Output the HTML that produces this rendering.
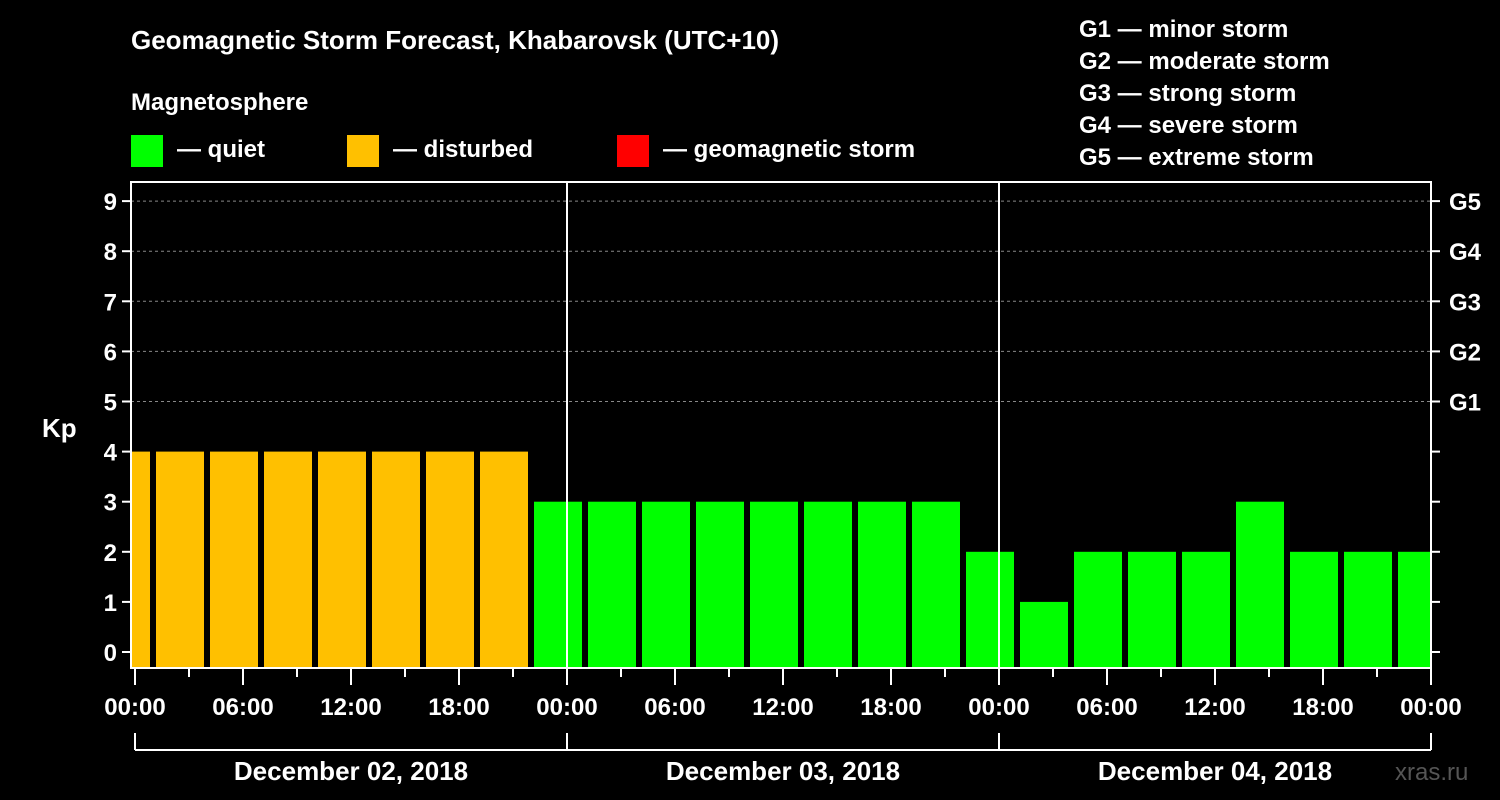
<!DOCTYPE html>
<html><head><meta charset="utf-8"><style>
body{margin:0;background:#000;}
svg{display:block;font-family:"Liberation Sans",sans-serif;font-weight:bold;}
</style></head><body>
<svg id="c" width="1500" height="800" xmlns="http://www.w3.org/2000/svg">
<rect width="1500" height="800" fill="#000"/>
<text x="131" y="49" font-size="26" fill="#fff">Geomagnetic Storm Forecast, Khabarovsk (UTC+10)</text>
<text x="131" y="110" font-size="24" fill="#fff">Magnetosphere</text>
<g><rect x="131" y="135" width="32" height="32" fill="#00ff00"/><text x="177" y="157" font-size="24" fill="#fff">— quiet</text></g>
<g><rect x="347" y="135" width="32" height="32" fill="#ffc000"/><text x="393" y="157" font-size="24" fill="#fff">— disturbed</text></g>
<g><rect x="617" y="135" width="32" height="32" fill="#ff0000"/><text x="663" y="157" font-size="24" fill="#fff">— geomagnetic storm</text></g>
<g font-size="24" fill="#fff">
<text x="1079" y="37">G1 — minor storm</text>
<text x="1079" y="69">G2 — moderate storm</text>
<text x="1079" y="101">G3 — strong storm</text>
<text x="1079" y="133">G4 — severe storm</text>
<text x="1079" y="165">G5 — extreme storm</text>
</g>
<text x="42" y="437" font-size="26" fill="#fff">Kp</text>
<text x="1395" y="780" font-size="24" fill="#555" font-weight="normal">xras.ru</text>
<defs><clipPath id="pc"><rect x="131" y="182" width="1300" height="486"/></clipPath></defs>
<g id="grid"></g>
<g id="bars" clip-path="url(#pc)"></g>
<g id="axes"></g>
</svg>
<script>
const kpValues=[4,4,4,4,4,4,4,4,3,3,3,3,3,3,3,3,2,1,2,2,2,3,2,2,2];
const yTicks=[0,1,2,3,4,5,6,7,8,9];
const gLabels=["G1","G2","G3","G4","G5"];
const xLabels=["00:00","06:00","12:00","18:00","00:00","06:00","12:00","18:00","00:00","06:00","12:00","18:00","00:00"];
const dayLabels=["December 02, 2018","December 03, 2018","December 04, 2018"];
const NS="http://www.w3.org/2000/svg";
const L=131,R=1431,T=182,B=668,X0=135,PXH=18;
const y=v=>652-50.1*v;
const x=h=>X0+PXH*h;
function mk(p,t,a){const e=document.createElementNS(NS,t);for(const k in a)e.setAttribute(k,a[k]);p.appendChild(e);return e;}
const grid=document.getElementById('grid'),bars=document.getElementById('bars'),axes=document.getElementById('axes');
yTicks.forEach(v=>{
 if(v>=5){const l=mk(grid,'line',{x1:L,x2:R,y1:y(v),y2:y(v),stroke:'#888','stroke-dasharray':'3,3','stroke-width':1});
 
 }
 mk(axes,'line',{x1:L-9,x2:L,y1:y(v),y2:y(v),stroke:'#fff','stroke-width':2});
 mk(axes,'line',{x1:R,x2:R+9,y1:y(v),y2:y(v),stroke:'#fff','stroke-width':2});
 const t=mk(axes,'text',{x:L-14,y:y(v)+9,'text-anchor':'end','font-size':24,fill:'#fff'});t.textContent=v;
 
 
});
gLabels.forEach((g,i)=>{const t=mk(axes,'text',{x:R+18,y:y(i+5)+9,'font-size':24,fill:'#fff'});t.textContent=g;
 
 });
kpValues.forEach((v,i)=>{
 const s=-2+3*i;
 const r=mk(bars,'rect',{x:x(s)+3,width:PXH*3-6,y:y(v),height:B-y(v),fill:v>=5?'#ff0000':(v>=4?'#ffc000':'#00ff00')});
 
 
});
mk(axes,'rect',{x:L,y:T,width:R-L,height:B-T,fill:'none',stroke:'#fff','stroke-width':2});
[1,2].forEach(d=>mk(axes,'line',{x1:x(24*d),x2:x(24*d),y1:T,y2:B,stroke:'#fff','stroke-width':2}));
for(let h=0;h<=72;h+=3){mk(axes,'line',{x1:x(h),x2:x(h),y1:B,y2:B+(h%6==0?17:9),stroke:'#fff','stroke-width':2});}
xLabels.forEach((s,i)=>{const t=mk(axes,'text',{x:x(6*i),y:715,'text-anchor':'middle','font-size':24,fill:'#fff'});t.textContent=s;
 
 });
mk(axes,'line',{x1:x(0),x2:x(72),y1:750,y2:750,stroke:'#fff','stroke-width':2});
for(let d=0;d<=3;d++)mk(axes,'line',{x1:x(24*d),x2:x(24*d),y1:733,y2:750,stroke:'#fff','stroke-width':2});
dayLabels.forEach((s,i)=>{const t=mk(axes,'text',{x:x(24*i+12),y:780,'text-anchor':'middle','font-size':26,fill:'#fff'});t.textContent=s;
 
 });
</script>
</body></html>
